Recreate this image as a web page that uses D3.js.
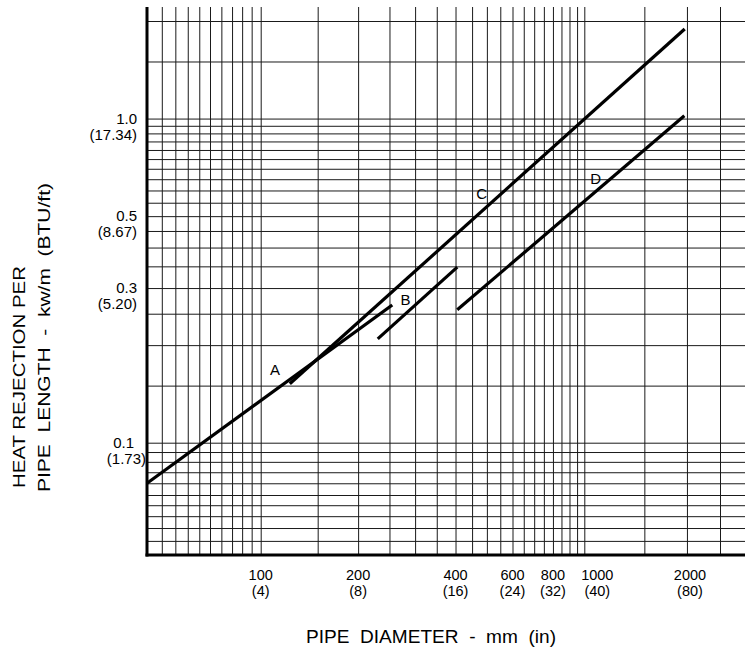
<!DOCTYPE html>
<html>
<head>
<meta charset="utf-8">
<script src="https://cdn.jsdelivr.net/npm/d3@7"></script>
<style>
  body { margin: 0; background: #fff; }
  svg { display: block; font-family: "Liberation Sans", Arial, sans-serif; }
</style>
</head>
<body>
<svg id="chart" width="745" height="654"></svg>
<script>
// pipe diameter (mm) where the vertical rulings fall
let xGrid = [55, 60, 65, 70, 75, 80, 85, 90, 95, 100, 150, 200, 250, 300, 350, 400, 450, 500,
    550, 600, 650, 700, 750, 800, 850, 900, 950, 1000, 1500, 2000, 2500]
// heat rejection (kW/m) where the horizontal rulings fall
let yGrid = [0.055, 0.06, 0.065, 0.07, 0.075, 0.08, 0.085, 0.09, 0.095, 0.1,
    0.15, 0.2, 0.25, 0.3, 0.35, 0.4, 0.45, 0.5, 0.55, 0.6, 0.65, 0.7, 0.75, 0.8, 0.85, 0.9, 0.95, 1.0,
    1.5, 2.0]

let xTicks = [100, 200, 400, 600, 800, 1000, 2000]
let xTicksIn = ["(4)", "(8)", "(16)", "(24)", "(32)", "(40)", "(80)"]
let yTicks = [1.0, 0.5, 0.3, 0.1]
let yTicksKw = ["1.0", "0.5", "0.3", "0.1"]
let yTicksBtu = ["(17.34)", "(8.67)", "(5.20)", "(1.73)"]

// curves: [diameter mm, kW/m]
let curveA = [[50, 0.08], [255, 0.266]]
let curveB = [[230, 0.209], [405, 0.348]]
let curveC = [[123, 0.152], [1970, 1.89]]
let curveD = [[405, 0.257], [1965, 1.02]]
let curves = [curveA, curveB, curveC, curveD]

let curveNames = ["A", "B", "C", "D"]
let curveLabelAt = [[110.7, 0.168], [280, 0.276], [482, 0.585], [1080, 0.654]]

let svg = d3.select("#chart")
let W = 745, plotTop = 7, plotBottom = 555

// the paper is not a clean log grid, so the log scales are piecewise
let x = d3.scaleLog()
    .domain([50, 75, 100, 1000, 2500])
    .range([147, 210, 260.7, 584.3, 720])
let y = d3.scaleLog()
    .domain([0.05, 0.075, 0.1, 2])
    .range([555, 495, 442.7, 21])
let plotLeft = x(50)

// grid rulings
svg.append("g")
    .attr("transform", `translate(0, ${plotBottom})`)
    .call(d3.axisBottom(x).tickValues(xGrid).tickSize(-(plotBottom - plotTop)).tickFormat(""))
svg.append("g")
    .attr("transform", `translate(${plotLeft}, 0)`)
    .call(d3.axisLeft(y).tickValues(yGrid).tickSize(-(W - plotLeft)).tickFormat(""))
svg.selectAll(".domain").remove()
svg.selectAll(".tick line")
    .attr("stroke", "#1a1a1a")
    .attr("stroke-width", 1)

// heavy axes
svg.append("line")
    .attr("x1", plotLeft).attr("x2", plotLeft)
    .attr("y1", plotTop).attr("y2", plotBottom + 1.5)
    .attr("stroke", "#000").attr("stroke-width", 3)
svg.append("line")
    .attr("x1", plotLeft - 1.5).attr("x2", W)
    .attr("y1", plotBottom).attr("y2", plotBottom)
    .attr("stroke", "#000").attr("stroke-width", 3)

// curves
let line = d3.line()
    .x(d => x(d[0]))
    .y(d => y(d[1]))
svg.selectAll(".curve")
    .data(curves)
    .enter()
    .append("path")
    .attr("class", "curve")
    .attr("d", line)
    .attr("fill", "none")
    .attr("stroke", "#000")
    .attr("stroke-width", 3.2)

svg.selectAll(".curve-label")
    .data(curveNames)
    .enter()
    .append("text")
    .attr("x", (d, i) => x(curveLabelAt[i][0]))
    .attr("y", (d, i) => y(curveLabelAt[i][1]))
    .attr("dy", "0.35em")
    .attr("text-anchor", "middle")
    .attr("font-size", 15)
    .text(d => d)

// x tick labels, mm over inches
let xNudge = { 1000: 13, 2000: 3 }
let xt = svg.selectAll(".xlab")
    .data(xTicks)
    .enter()
    .append("g")
    .attr("transform", d => `translate(${x(d) + (xNudge[d] || 0)}, 0)`)
xt.append("text")
    .attr("y", 580)
    .attr("text-anchor", "middle")
    .attr("font-size", 14.5)
    .text(d => d)
xt.append("text")
    .attr("y", 596)
    .attr("text-anchor", "middle")
    .attr("font-size", 14.5)
    .text((d, i) => xTicksIn[i])

// y tick labels, kW/m over BTU/ft
let yt = svg.selectAll(".ylab")
    .data(yTicks)
    .enter()
    .append("g")
    .attr("transform", d => `translate(0, ${y(d)})`)
yt.append("text")
    .attr("x", (d, i) => i == 3 ? 134 : 137)
    .attr("dy", "0.35em")
    .attr("text-anchor", "end")
    .attr("font-size", 15)
    .text((d, i) => yTicksKw[i])
yt.append("text")
    .attr("x", (d, i) => i == 3 ? 146 : 137)
    .attr("dy", "1.4em")
    .attr("text-anchor", "end")
    .attr("font-size", 15)
    .text((d, i) => yTicksBtu[i])

// axis titles
svg.append("text")
    .attr("x", 431)
    .attr("y", 643)
    .attr("text-anchor", "middle")
    .attr("font-size", 18)
    .attr("textLength", 250)
    .attr("lengthAdjust", "spacingAndGlyphs")
    .style("white-space", "pre")
    .text("PIPE  DIAMETER  -  mm  (in)")

svg.append("text")
    .attr("transform", "translate(25, 488) rotate(-90)")
    .attr("font-size", 17)
    .attr("textLength", 222)
    .attr("lengthAdjust", "spacingAndGlyphs")
    .text("HEAT REJECTION PER")
svg.append("text")
    .attr("transform", "translate(50, 492) rotate(-90)")
    .attr("font-size", 17)
    .attr("textLength", 309)
    .attr("lengthAdjust", "spacingAndGlyphs")
    .style("white-space", "pre")
    .text("PIPE  LENGTH  -  kw/m  (BTU/ft)")
</script>
</body>
</html>
